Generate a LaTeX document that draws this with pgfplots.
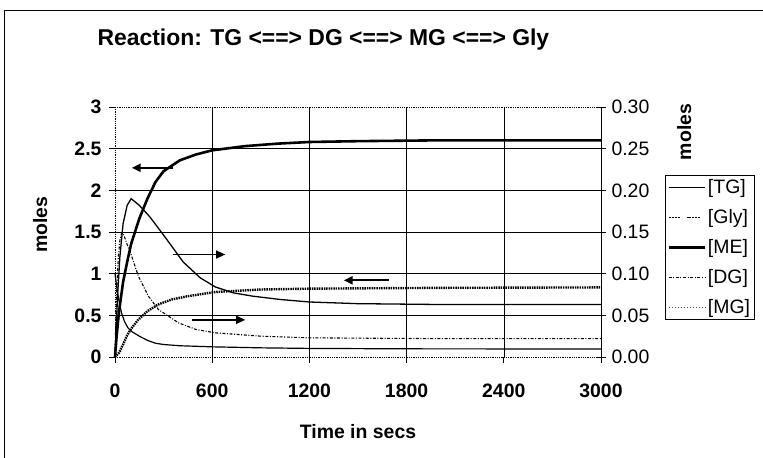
\documentclass[border=0pt]{standalone}
\usepackage{fontspec}
\setmainfont{Liberation Sans}
\usepackage{pgfplots}
\pgfplotsset{compat=1.18}
\usetikzlibrary{arrows.meta}
\newcommand\tf{\fontsize{19.5}{22}\selectfont}
\tikzset{
  stTG/.style={black, line width=1.2pt},
  stGly/.style={black, line width=2.4pt, dash pattern=on 1.5pt off 0.9pt},
  stME/.style={black, line width=2.6pt},
  stDG/.style={black, line width=1.1pt, dash pattern=on 3pt off 1.6pt on 1pt off 1.6pt},
  stMG/.style={black, line width=1.3pt},
  stMGleg/.style={black!70, line width=0.9pt, dash pattern=on 1pt off 2pt},
  arr/.style={line width=2.2pt, -{Triangle[length=9bp,width=8bp]}},
}
\begin{document}
\begin{tikzpicture}
\useasboundingbox (-115bp,-101bp) rectangle (648bp,357bp);
\draw[line width=0.9pt] (-111bp,-101bp) -- (-111bp,347bp) -- (648bp,347bp);
\node[anchor=west, font=\bfseries\fontsize{23}{26}\selectfont] at (-21bp,317bp) {Reaction: TG <==> DG <==> MG <==> Gly};
\begin{axis}[
  at={(0,0)}, anchor=south west, scale only axis, width=486bp, height=250bp,
  xmin=0, xmax=3000, ymin=0, ymax=3,
  axis x line*=bottom, axis y line*=left,
  axis line style={densely dotted, line width=0.8pt, -},
  xtick={600,1200,1800,2400}, extra x ticks={0,3000},
  ytick={0.5,1,1.5,2,2.5}, extra y ticks={0,3},
  extra tick style={grid=none},
  xmajorgrids, ymajorgrids,
  major grid style={black, line width=0.6pt, solid},
  tick style={black, line width=0.8pt, solid},
  tick align=outside, major tick length=6bp,
  /pgf/number format/assume math mode=true,
  /pgf/number format/set thousands separator={},
  xticklabel style={font=\bfseries\tf, yshift=-17bp},
  yticklabel style={font=\bfseries\tf, xshift=-4bp},
  ylabel={moles}, xlabel={Time in secs},
  every axis y label/.style={at={(axis description cs:-0.154,0.53)}, rotate=90, anchor=center, font=\bfseries\tf},
  every axis x label/.style={at={(axis description cs:0.5,-0.30)}, anchor=center, font=\bfseries\tf},
  clip=false,
]
\draw[densely dotted, line width=0.8pt] (rel axis cs:0,1) -- (rel axis cs:1,1);
% ME
\addplot[stME] coordinates {(0,0) (10,0.25) (25,0.55) (50,0.9) (75,1.14) (100,1.36) (150,1.66) (200,1.9) (250,2.1) (300,2.23) (400,2.36) (500,2.43) (600,2.48) (800,2.53) (1000,2.56) (1200,2.58) (1500,2.59) (2000,2.6) (3000,2.6)};
% TG
\addplot[stTG] coordinates {(0,1.0) (10,0.85) (20,0.72) (40,0.53) (60,0.42) (80,0.35) (100,0.31) (125,0.28) (150,0.25) (200,0.2) (250,0.165) (300,0.15) (400,0.135) (600,0.122) (900,0.11) (1200,0.103) (1800,0.098) (3000,0.096)};
% Gly
\addplot[stGly] coordinates {(0,0) (25,0.05) (50,0.15) (75,0.26) (100,0.34) (140,0.44) (200,0.55) (266,0.63) (350,0.69) (450,0.73) (620,0.78) (900,0.81) (1200,0.82) (2000,0.83) (3000,0.835)};
% arrows
\draw[arr] (axis cs:361,2.27) -- (axis cs:103,2.27);
\draw[arr, line width=1.4pt] (axis cs:361,1.23) -- (axis cs:680,1.23);
\draw[arr] (axis cs:1690,0.92) -- (axis cs:1412,0.92);
\draw[arr, line width=1.4pt] (axis cs:474,0.446) -- (axis cs:804,0.446);
\end{axis}
\begin{axis}[
  at={(0,0)}, anchor=south west, scale only axis, width=486bp, height=250bp,
  xmin=0, xmax=3000, ymin=0, ymax=0.3,
  axis x line=none, axis y line*=right,
  axis line style={solid, line width=0.8pt, -},
  ytick={0,0.05,...,0.3},
  tick style={black, line width=0.8pt},
  tick align=center, major tick length=10bp,
  /pgf/number format/assume math mode=true,
  /pgf/number format/.cd, fixed, fixed zerofill, precision=2, /pgfplots/.cd,
  yticklabel style={font=\tf, xshift=2bp},
  ylabel={moles},
  every axis y label/.style={at={(axis description cs:1.171,0.9)}, rotate=90, anchor=center, font=\bfseries\tf},
  legend style={at={(1.1317,0.728)}, anchor=north west, draw=black, line width=0.8pt,
    font=\fontsize{19.5}{20}\selectfont, inner sep=2bp, row sep=10.5bp, cells={anchor=west},
    /tikz/every even column/.append style={column sep=3bp}},
  legend image code/.code={\draw[#1] (0bp,0bp) -- (36bp,0bp);},
  clip=false,
]
\addlegendimage{stTG}\addlegendentry{[TG]}
\addlegendimage{black, line width=1.4pt, dash pattern=on 2pt off 1pt on 2pt off 1pt on 2pt off 1pt on 2pt off 7pt on 2pt off 0pt}\addlegendentry{[Gly]}
\addlegendimage{stME}\addlegendentry{[ME]}
\addlegendimage{stDG, line width=0.8pt}\addlegendentry{[DG]}
\addlegendimage{stMGleg}\addlegendentry{[MG]}
% DG
\addplot[stDG, forget plot] coordinates {(0,0) (5,0.045) (10,0.075) (20,0.118) (30,0.14) (41,0.149) (55,0.146) (75,0.135) (103,0.121) (144,0.097) (206,0.073) (268,0.057) (392,0.041) (500,0.033) (619,0.029) (900,0.025) (1200,0.023) (2000,0.022) (3000,0.022)};
% MG
\addplot[stMG, forget plot] coordinates {(0,0) (15,0.07) (30,0.12) (50,0.16) (75,0.182) (100,0.19) (150,0.182) (216,0.168) (320,0.141) (421,0.114) (526,0.095) (620,0.084) (730,0.077) (850,0.073) (1021,0.069) (1200,0.066) (1500,0.064) (2000,0.063) (3000,0.063)};
\end{axis}
\end{tikzpicture}
\end{document}
